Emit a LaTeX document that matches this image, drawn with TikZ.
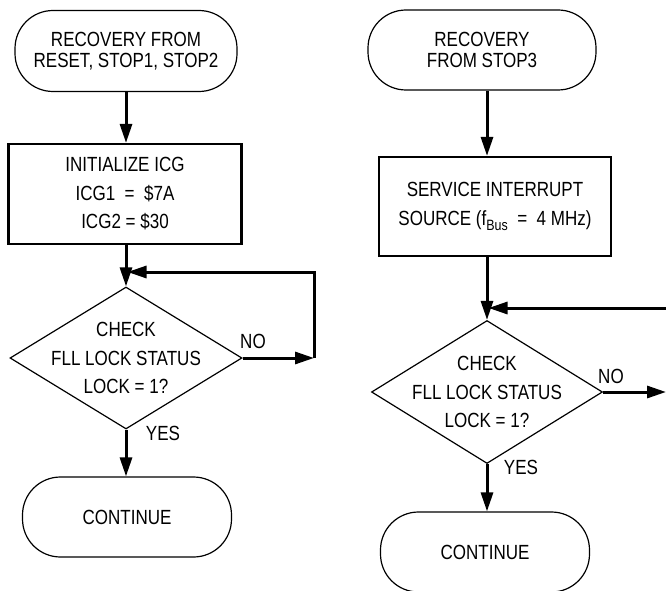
\documentclass[tikz,border=0pt]{standalone}
\usepackage{fontspec}
\setmainfont{Liberation Sans}[FakeStretch=0.83]
\usetikzlibrary{arrows.meta,positioning,shapes.geometric}
\newcommand{\termfont}{\fontsize{20.5}{21.5}\selectfont}
\newcommand{\boxfont}{\fontsize{20.5}{28.5}\selectfont}
\tikzset{
  term/.style={rectangle, rounded corners=38pt, draw, line width=1.2pt,
               minimum height=80pt, align=center, font=\termfont},
  blk/.style={rectangle, draw, line width=2.2pt, align=center, font=\boxfont},
  dec/.style={diamond, aspect=1.63, draw, line width=1.2pt, inner xsep=-40pt,
              inner ysep=-20pt, align=center, font=\boxfont},
  ar/.style={-{Triangle[length=19pt,width=12pt]}, line width=3pt},
  lbl/.style={font=\boxfont, inner sep=0pt},
}

\begin{document}
\begin{tikzpicture}[x=1pt,y=-1pt]
\useasboundingbox (0,0) rectangle (666,591);
% left flow
\node[term, minimum width=222pt, minimum height=81pt] (rec1) at (126,51) {RECOVERY FROM\\RESET, STOP1, STOP2};
\node[blk, minimum width=233pt, minimum height=100pt] (init) at (125,194) {INITIALIZE ICG\\ICG1\ \ =\ \ \$7A\\ICG2 = \$30};
\node[dec, minimum width=232pt, minimum height=142pt] (chk1) at (126,358) {CHECK\\FLL LOCK STATUS\\LOCK = 1?};
\node[term, minimum width=209pt] (cont1) at (127,517) {CONTINUE};
\coordinate (back1) at (314,358);
\coordinate (join1) at (127.5,272);
\draw[ar] (rec1.south) -- (rec1.south |- init.north);
\draw[ar] (init.south -| chk1.north) -- (chk1.north);
\draw[ar] (chk1.east) -- (back1);
\draw[ar] (back1) |- (join1);
\draw[ar] (chk1.south) -- (cont1.north -| chk1.south);
\node[lbl] (no1) at (253,341) {NO};
\node[lbl] (yes1) at (163,433) {YES};
% right flow
\node[term, minimum width=228pt] (rec2) at (482,50) {RECOVERY\\FROM STOP3};
\node[blk, minimum width=232pt, minimum height=99pt] (isr) at (495,206.5) {SERVICE INTERRUPT\\SOURCE (f\raisebox{-5pt}{\fontsize{15}{15}\selectfont Bus}\ \ =\ \ 4 MHz)};
\node[dec, minimum width=231pt, minimum height=143pt] (chk2) at (487,392) {CHECK\\FLL LOCK STATUS\\LOCK = 1?};
\node[term, minimum width=209pt] (cont2) at (485,552) {CONTINUE};
\coordinate (back2) at (666,308);
\coordinate (join2) at (488.5,308);
\coordinate (out2) at (666,392);
\draw[ar] (rec2.south -| chk2.north) -- (isr.north -| chk2.north);
\draw[ar] (isr.south -| chk2.north) -- (chk2.north);
\draw[ar] (back2) -- (join2);
\draw[ar] (chk2.east) -- (out2);
\draw[ar] (chk2.south) -- (cont2.north -| chk2.south);
\node[lbl] (no2) at (611,376) {NO};
\node[lbl] (yes2) at (521,467) {YES};
\end{tikzpicture}
\end{document}
